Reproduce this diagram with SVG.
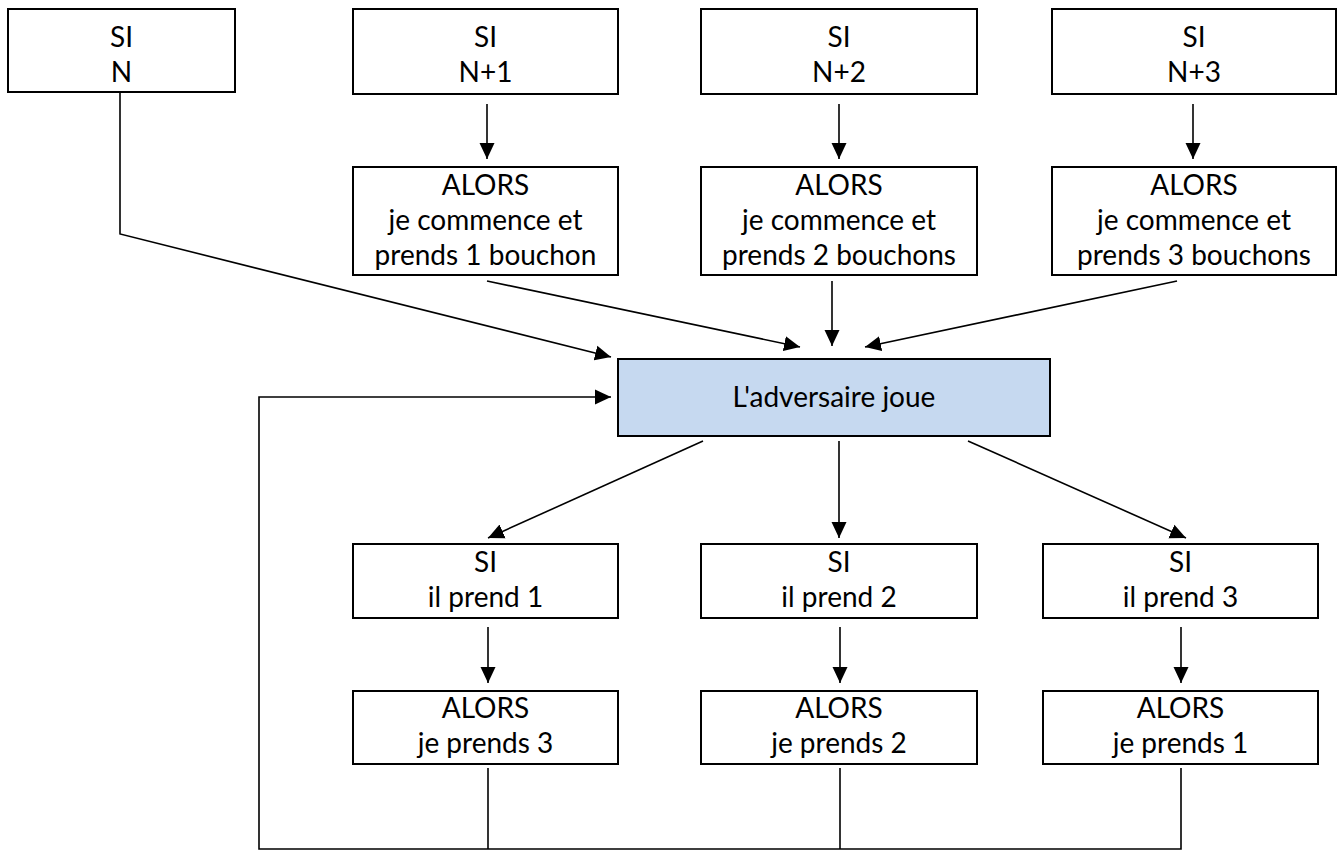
<svg xmlns="http://www.w3.org/2000/svg" width="1342" height="851" viewBox="0 0 1342 851">
<style>
.box{fill:#ffffff;stroke:#000;stroke-width:2}
.blue{fill:#C6D9F0;stroke:#000;stroke-width:2}
.t{font-family:Lato,"Liberation Sans",sans-serif;font-size:28px;fill:#000;text-anchor:middle}
.c{fill:none;stroke:#000;stroke-width:1.6}
.a{marker-end:url(#ah)}
</style>
<defs>
<marker id="ah" markerUnits="userSpaceOnUse" markerWidth="17" markerHeight="16" refX="16" refY="8" orient="auto">
<path d="M0,0.5 L16,8 L0,15.5 z" fill="#000"/>
</marker>
</defs>
<rect width="1342" height="851" fill="#fff"/>
<g id="connectors">
<polyline class="c a" points="120,92 120,234 611,357"/>
<line class="c a" x1="487" y1="104" x2="487" y2="159"/>
<line class="c a" x1="839" y1="104" x2="839" y2="159"/>
<line class="c a" x1="1193" y1="104" x2="1193" y2="159"/>
<line class="c a" x1="487" y1="281" x2="800" y2="347"/>
<line class="c a" x1="832" y1="281" x2="832" y2="346"/>
<line class="c a" x1="1177" y1="281" x2="865" y2="347"/>
<line class="c a" x1="703" y1="441" x2="488" y2="538"/>
<line class="c a" x1="839" y1="441" x2="839" y2="538"/>
<line class="c a" x1="968" y1="441" x2="1186" y2="538"/>
<line class="c a" x1="488" y1="627" x2="488" y2="683"/>
<line class="c a" x1="840" y1="627" x2="840" y2="683"/>
<line class="c a" x1="1181" y1="627" x2="1181" y2="683"/>
<polyline class="c a" points="1181,768 1181,849 259,849 259,397 611,397"/>
<line class="c" x1="488" y1="768" x2="488" y2="849"/>
<line class="c" x1="840" y1="768" x2="840" y2="849"/>
</g>
<g id="si-n"><rect class="box" x="8" y="9" width="227" height="83"/><text class="t" x="121.5" y="47">SI</text><text class="t" x="121.5" y="82">N</text></g>
<g id="si-n1"><rect class="box" x="353" y="9" width="265" height="85"/><text class="t" x="485.5" y="47">SI</text><text class="t" x="485.5" y="82">N+1</text></g>
<g id="si-n2"><rect class="box" x="701" y="9" width="276" height="85"/><text class="t" x="839" y="47">SI</text><text class="t" x="839" y="82">N+2</text></g>
<g id="si-n3"><rect class="box" x="1052" y="9" width="284" height="85"/><text class="t" x="1194" y="47">SI</text><text class="t" x="1194" y="82">N+3</text></g>
<g id="alors-1"><rect class="box" x="353" y="167" width="265" height="108"/><text class="t" x="485.5" y="195">ALORS</text><text class="t" x="485.5" y="230">je commence et</text><text class="t" x="485.5" y="265">prends 1 bouchon</text></g>
<g id="alors-2"><rect class="box" x="701" y="167" width="276" height="108"/><text class="t" x="839" y="195">ALORS</text><text class="t" x="839" y="230">je commence et</text><text class="t" x="839" y="265">prends 2 bouchons</text></g>
<g id="alors-3"><rect class="box" x="1052" y="167" width="284" height="108"/><text class="t" x="1194" y="195">ALORS</text><text class="t" x="1194" y="230">je commence et</text><text class="t" x="1194" y="265">prends 3 bouchons</text></g>
<g id="adversaire"><rect class="blue" x="618" y="359" width="432" height="77"/><text class="t" x="834" y="407">L'adversaire joue</text></g>
<g id="si-p1"><rect class="box" x="353" y="544" width="265" height="74"/><text class="t" x="485.5" y="572">SI</text><text class="t" x="485.5" y="607">il prend 1</text></g>
<g id="si-p2"><rect class="box" x="701" y="544" width="276" height="74"/><text class="t" x="839" y="572">SI</text><text class="t" x="839" y="607">il prend 2</text></g>
<g id="si-p3"><rect class="box" x="1043" y="544" width="275" height="74"/><text class="t" x="1180.5" y="572">SI</text><text class="t" x="1180.5" y="607">il prend 3</text></g>
<g id="alors-p3"><rect class="box" x="353" y="691" width="265" height="73"/><text class="t" x="485.5" y="718">ALORS</text><text class="t" x="485.5" y="753">je prends 3</text></g>
<g id="alors-p2"><rect class="box" x="701" y="691" width="276" height="73"/><text class="t" x="839" y="718">ALORS</text><text class="t" x="839" y="753">je prends 2</text></g>
<g id="alors-p1"><rect class="box" x="1043" y="691" width="275" height="73"/><text class="t" x="1180.5" y="718">ALORS</text><text class="t" x="1180.5" y="753">je prends 1</text></g>
</svg>
